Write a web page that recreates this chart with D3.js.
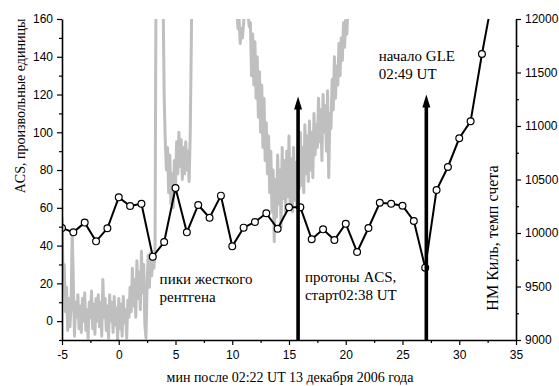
<!DOCTYPE html>
<html><head><meta charset="utf-8">
<script src="https://cdn.jsdelivr.net/npm/d3@7"></script>
<style>body{margin:0;background:#fff} svg{display:block}</style>
</head><body>
<svg id="c" width="559" height="386"></svg>
<script>
// NM Kiel count rate (right axis), one point per minute
const nmMinutes = [-5,-4,-3,-2,-1,0,1,2,3,4,5,6,7,8,9,10,11,12,13,14,15,16,17,18,19,20,21,22,23,24,25,26,27,28,29,30,31,32,33];
const nmValues = [10047,10006,10097,9922,10044,10333,10252,10274,9779,9916,10421,10006,10262,10143,10349,9876,10050,10103,10184,10040,10240,10240,9941,10034,9935,10087,9822,10047,10283,10274,10255,10112,9676,10402,10617,10885,11044,11673,12240];

// ACS rate (left axis), sampled every 0.1 min from -5.0
const acsStart = -5.0;
const acsStep = 0.1;
const acsValues = [
 55,22,30,5,18,-5,12,-3,8,48,
 20,-8,10,2,14,-4,8,-6,12,0,
 15,-5,6,-9,10,2,16,-4,9,-7,
 12,0,14,-3,10,-8,22,2,12,-5,
 8,-9,14,0,10,-6,13,-2,7,-10,
 12,-4,9,-8,13,-1,6,-9,11,2,
 18,5,28,8,22,2,32,12,26,6,
 37,15,30,-2,-9,20,35,18,36,24,
 34,28,40,210,230,225,240,230,220,175,
 120,95,80,92,68,88,62,78,60,85,
 72,95,78,100,82,96,75,92,78,95,
 80,90,74,100,150,220,240,250,260,270,
 230,240,235,245,240,250,245,240,250,245,
 240,250,245,240,235,245,240,250,240,235,
 230,240,230,225,235,220,230,215,225,210,
 200,190,185,175,168,155,160,147,155,150,
 158,165,180,172,162,156,158,130,152,125,
 148,118,140,108,132,100,125,92,118,85,
 105,78,98,68,90,58,80,42,75,55,
 88,62,80,50,92,65,85,58,90,66,
 98,62,86,58,92,64,84,60,95,70,
 100,72,92,68,104,78,98,74,106,80,
 100,76,110,88,104,92,118,95,112,85,
 120,100,114,90,122,76,110,102,128,112,
 140,118,135,125,147,130,150,138,158,145,
 160,152,168,175,200,230
];

// Event arrows (minutes, top in ACS units)
const arrowMinutes = [15.8, 27.1];
const arrowTops = [119, 120];

// Ticks
const xTicks = [-5,0,5,10,15,20,25,30,35];
const xMinor = [-2.5,2.5,7.5,12.5,17.5,22.5,27.5,32.5];
const leftTicks = [0,20,40,60,80,100,120,140,160];
const leftMinor = [-10,10,30,50,70,90,110,130,150];
const rightTicks = [9000,9500,10000,10500,11000,11500,12000];
const rightMinor = [9250,9750,10250,10750,11250,11750];

// Annotations
const notes = [
  {lines:["пики жесткого","рентгена"], x:3.6, y:284},
  {lines:["протоны ACS,","старт02:38 UT"], x:16.4, y:282},
  {lines:["начало GLE","02:49 UT"], x:22.9, y:61}
];

const W = 559, H = 386;
const m = {l:62, r:43, t:19, b:46};
const svg = d3.select("#c");
const x = d3.scaleLinear([-5,35],[m.l, W-m.r]);
const yL = d3.scaleLinear([-10,160],[H-m.b, m.t]);
const yR = d3.scaleLinear([9000,12000],[H-m.b, m.t]);

svg.append("defs").append("clipPath").attr("id","clip")
  .append("rect").attr("x",m.l).attr("y",m.t).attr("width",W-m.l-m.r).attr("height",H-m.t-m.b);

const plot = svg.append("g").attr("clip-path","url(#clip)");

// ACS grey trace
const acsData = acsValues.map((v,i)=>({t: acsStart + i*acsStep, v}));
plot.append("path").datum(acsData)
  .attr("fill","none").attr("stroke","#bfbfbf").attr("stroke-width",3)
  .attr("stroke-linejoin","round")
  .attr("d", d3.line().x(d=>x(d.t)).y(d=>yL(d.v)));

// NM Kiel
const nmData = nmMinutes.map((t,i)=>({t, v:nmValues[i]}));
plot.append("path").datum(nmData)
  .attr("fill","none").attr("stroke","#000").attr("stroke-width",2)
  .attr("d", d3.line().x(d=>x(d.t)).y(d=>yR(d.v)));
plot.selectAll("circle").data(nmData).join("circle")
  .attr("cx",d=>x(d.t)).attr("cy",d=>yR(d.v)).attr("r",3.4)
  .attr("fill","#fff").attr("stroke","#000").attr("stroke-width",1.2);

// Arrows
arrowMinutes.forEach((a,i)=>{
  const ax = x(a), tip = yL(arrowTops[i]);
  svg.append("line").attr("x1",ax).attr("x2",ax)
    .attr("y1",yL(-10)).attr("y2",tip+10)
    .attr("stroke","#000").attr("stroke-width",3.6);
  svg.append("path")
    .attr("d",`M${ax},${tip}L${ax-4},${tip+13}L${ax+4},${tip+13}Z`)
    .attr("fill","#000");
});

// Axes
const tf = d=>String(d);
function styleAxis(g){
  g.select(".domain").attr("stroke-width",1.6);
  g.selectAll(".tick line").attr("stroke-width",1.2);
  g.selectAll("text").attr("font-family","'Liberation Sans', Arial, sans-serif").attr("font-size",12).attr("fill","#000");
}
svg.append("g").attr("transform",`translate(0,${H-m.b})`)
  .call(d3.axisBottom(x).tickValues(xTicks).tickFormat(tf).tickSize(5).tickSizeOuter(0).tickPadding(5))
  .call(styleAxis);
svg.append("g").attr("transform",`translate(0,${H-m.b})`)
  .call(d3.axisBottom(x).tickValues(xMinor).tickFormat("").tickSize(3))
  .call(g=>g.select(".domain").remove()).call(styleAxis);

svg.append("g").attr("transform",`translate(${m.l},0)`)
  .call(d3.axisLeft(yL).tickValues(leftTicks).tickFormat(tf).tickSize(5).tickSizeOuter(0).tickPadding(4))
  .call(styleAxis);
svg.append("g").attr("transform",`translate(${m.l},0)`)
  .call(d3.axisLeft(yL).tickValues(leftMinor).tickFormat("").tickSize(3))
  .call(g=>g.select(".domain").remove()).call(styleAxis);

svg.append("g").attr("transform",`translate(${W-m.r},0)`)
  .call(d3.axisRight(yR).tickValues(rightTicks).tickFormat(tf).tickSize(5).tickSizeOuter(0).tickPadding(4))
  .call(styleAxis);
svg.append("g").attr("transform",`translate(${W-m.r},0)`)
  .call(d3.axisRight(yR).tickValues(rightMinor).tickFormat("").tickSize(3))
  .call(g=>g.select(".domain").remove()).call(styleAxis);

// Axis titles
const serif = "'Liberation Serif','Times New Roman',serif";
svg.append("text").attr("transform","translate(25,106) rotate(-90)")
  .attr("text-anchor","middle").attr("font-family",serif).attr("font-size",14)
  .text("ACS, произвольные единицы");
svg.append("text").attr("transform","translate(498,238) rotate(-90)")
  .attr("text-anchor","middle").attr("font-family",serif).attr("font-size",16)
  .text("НМ Киль, темп счета");
svg.append("text").attr("x",290).attr("y",382)
  .attr("text-anchor","middle").attr("font-family",serif).attr("font-size",14)
  .text("мин после 02:22 UT 13 декабря 2006 года");

// Annotations
notes.forEach(n=>{
  n.lines.forEach((s,j)=>{
    svg.append("text").attr("x",x(n.x)).attr("y",n.y + j*18)
      .attr("font-family",serif).attr("font-size",15).text(s);
  });
});
</script>
</body></html>
